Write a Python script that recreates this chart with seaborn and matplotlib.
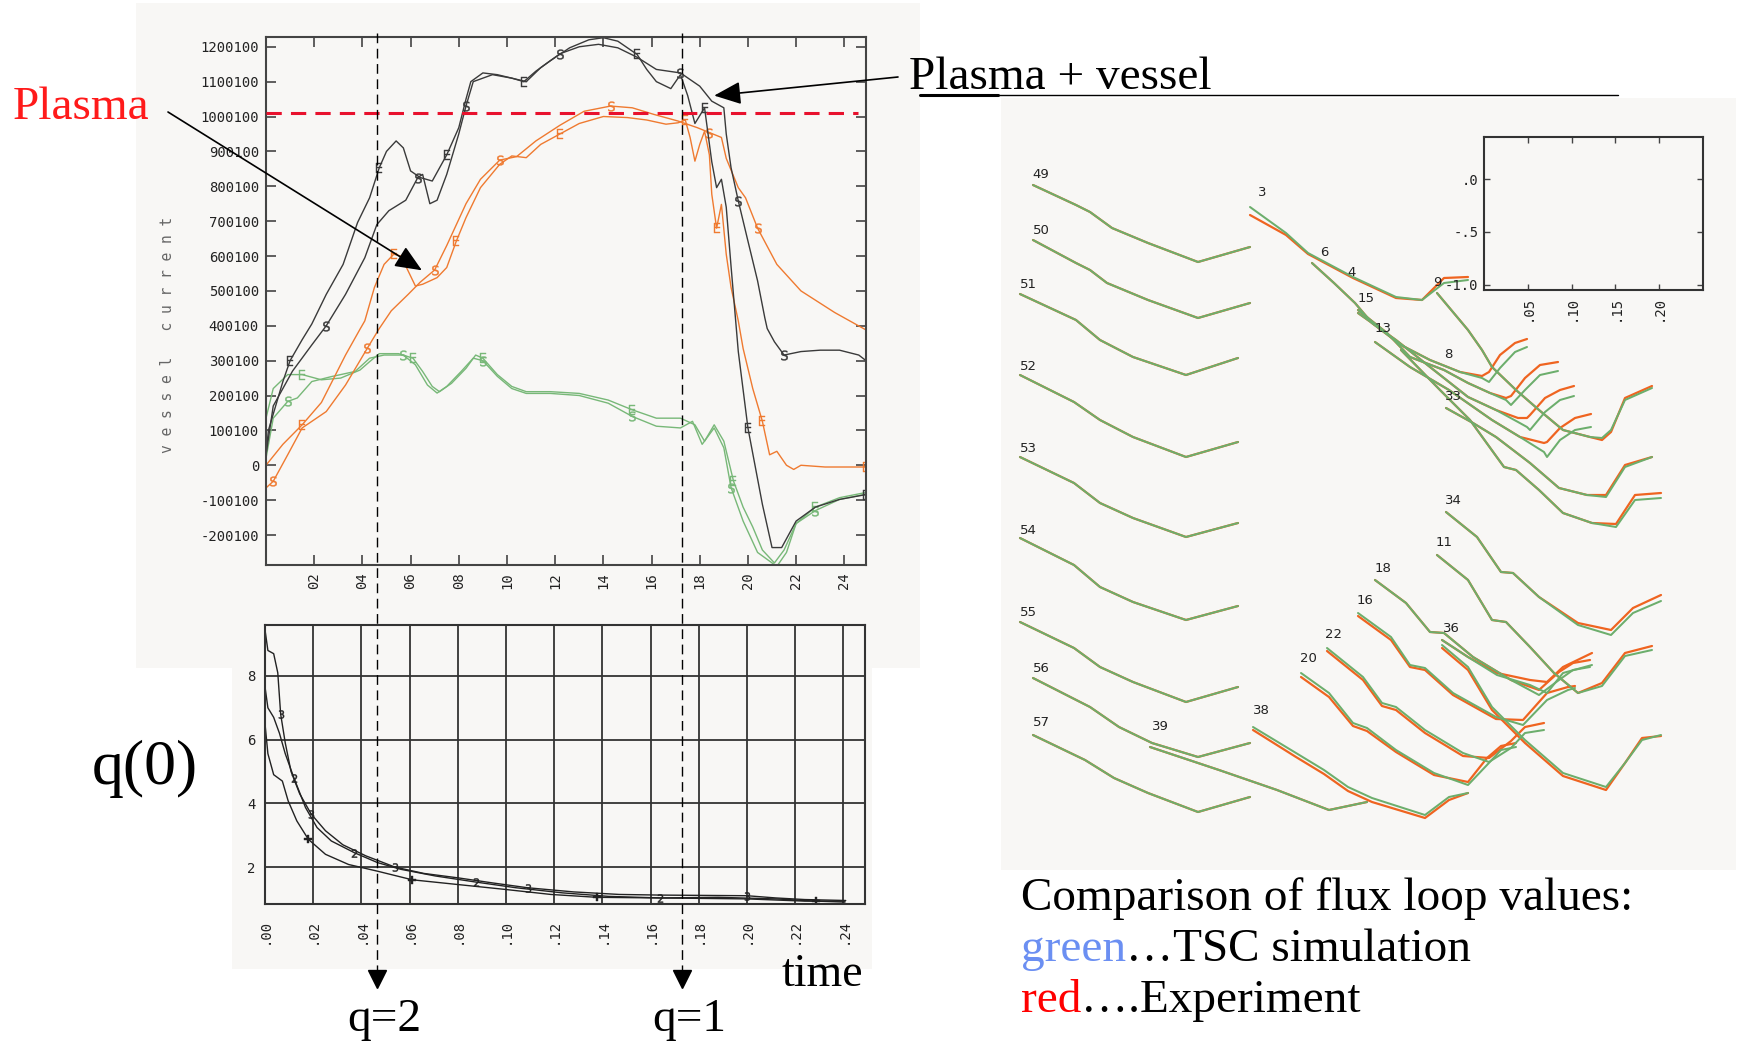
import matplotlib
matplotlib.use("Agg")
import matplotlib.pyplot as plt
from matplotlib.patches import Rectangle
from matplotlib.lines import Line2D
from matplotlib.transforms import blended_transform_factory
import seaborn as sns

sns.set_style("white")
plt.rcParams['font.family'] = ['DejaVu Sans']

W, H = 1739, 1046
PANEL = '#f8f7f5'
BLACK_C = '#3a3a3a'
ORANGE = '#ef7a30'
GREEN = '#78b878'
FLUX_RED = '#ef6420'
FLUX_GREEN = '#6cae6c'
SERIF = 'Liberation Serif'
MONO = 'DejaVu Sans Mono'

# --- vessel current traces (time in s, current in units of 100 kA) ---
t_black_exp = [0.000, 0.001, 0.007, 0.010, 0.015, 0.019, 0.025, 0.032, 0.038, 0.043, 0.047, 0.050,
               0.054, 0.057, 0.060, 0.064, 0.069, 0.075, 0.080, 0.083, 0.085, 0.090, 0.096, 0.102,
               0.107, 0.112, 0.118, 0.126, 0.134, 0.140, 0.146, 0.154, 0.158, 0.162, 0.168, 0.172,
               0.175, 0.178, 0.182, 0.185, 0.187, 0.189, 0.191, 0.193, 0.196, 0.200, 0.206, 0.210,
               0.214, 0.220, 0.228, 0.238, 0.249]
i_black_exp = [0.3, 1.0, 2.4, 3.0, 3.6, 4.05, 4.9, 5.76, 6.96, 7.67, 8.53, 9.0,
               9.3, 9.1, 8.44, 8.25, 8.15, 8.9, 9.68, 10.5, 11.0, 11.25, 11.2, 11.1,
               11.0, 11.3, 11.6, 11.97, 12.2, 12.26, 12.16, 11.78, 11.35, 11.0, 10.8, 11.2,
               10.6, 9.8, 10.25, 8.7, 7.96, 8.2, 7.4, 5.7, 3.26, 1.07, -1.12, -2.36,
               -2.36, -1.6, -1.2, -0.98, -0.84]

t_black_sim = [0.000, 0.003, 0.011, 0.019, 0.025, 0.033, 0.041, 0.046, 0.051, 0.058, 0.063, 0.065,
               0.068, 0.071, 0.075, 0.080, 0.083, 0.086, 0.094, 0.102, 0.108, 0.114, 0.122, 0.130,
               0.138, 0.146, 0.154, 0.162, 0.172, 0.180, 0.185, 0.190, 0.191, 0.193, 0.196, 0.200,
               0.204, 0.207, 0.208, 0.211, 0.215, 0.222, 0.230, 0.238, 0.246, 0.249]
i_black_sim = [0.3, 1.7, 2.7, 3.45, 4.0, 4.9, 5.95, 6.9, 7.3, 7.6, 8.25, 8.34,
               7.5, 7.6, 8.34, 9.5, 10.3, 11.0, 11.2, 11.1, 11.0, 11.4, 11.8, 12.0,
               12.07, 11.97, 11.7, 11.35, 11.25, 10.87, 10.44, 10.25, 9.5, 8.53, 7.58, 6.43,
               5.29, 4.23, 3.92, 3.54, 3.16, 3.26, 3.3, 3.3, 3.16, 3.0]

t_orange_exp = [0.000, 0.007, 0.015, 0.023, 0.033, 0.039, 0.041, 0.045, 0.049, 0.053, 0.056, 0.059,
                0.062, 0.065, 0.071, 0.075, 0.079, 0.083, 0.089, 0.097, 0.102, 0.108, 0.114, 0.122,
                0.130, 0.140, 0.150, 0.158, 0.166, 0.171, 0.174, 0.176, 0.178, 0.180, 0.182, 0.184,
                0.185, 0.187, 0.189, 0.191, 0.193, 0.196, 0.198, 0.202, 0.206, 0.209, 0.212, 0.216,
                0.219, 0.222, 0.232, 0.249]
i_orange_exp = [0.0, 0.6, 1.16, 1.8, 3.16, 3.9, 4.14, 5.1, 5.76, 6.05, 6.0, 5.57,
                5.14, 5.19, 5.38, 5.67, 6.43, 7.1, 7.96, 8.63, 8.87, 8.82, 9.2, 9.5,
                9.8, 10.0, 9.97, 9.9, 9.78, 9.82, 9.9, 9.4, 8.72, 9.2, 9.58, 8.9,
                7.77, 6.8, 7.48, 6.05, 5.1, 4.14, 3.35, 2.2, 1.26, 0.3, 0.4, 0.0,
                -0.12, 0.0, -0.05, -0.05]

t_orange_sim = [0.000, 0.003, 0.009, 0.015, 0.025, 0.033, 0.042, 0.047, 0.052, 0.059, 0.064, 0.070,
                0.075, 0.079, 0.083, 0.089, 0.097, 0.104, 0.112, 0.122, 0.132, 0.143, 0.152, 0.161,
                0.171, 0.179, 0.184, 0.189, 0.191, 0.196, 0.199, 0.204, 0.212, 0.222, 0.236, 0.249]
i_orange_sim = [-0.65, -0.46, 0.3, 1.07, 1.54, 2.3, 3.35, 3.92, 4.43, 4.9, 5.25, 5.6,
                6.3, 6.9, 7.5, 8.2, 8.75, 8.85, 9.3, 9.75, 10.15, 10.3, 10.25, 10.06,
                9.87, 9.68, 9.54, 9.4, 8.8, 7.96, 7.67, 6.8, 5.76, 5.0, 4.38, 3.88]

t_green_1 = [0.000, 0.003, 0.009, 0.015, 0.023, 0.031, 0.039, 0.043, 0.047, 0.055, 0.061, 0.065,
             0.069, 0.072, 0.077, 0.083, 0.087, 0.090, 0.096, 0.102, 0.108, 0.118, 0.130, 0.142,
             0.152, 0.162, 0.172, 0.178, 0.182, 0.186, 0.190, 0.194, 0.198, 0.202, 0.206, 0.211,
             0.215, 0.220, 0.228, 0.238, 0.249]
i_green_1 = [1.35, 2.2, 2.6, 2.6, 2.45, 2.5, 2.73, 2.97, 3.2, 3.2, 3.07, 2.69,
             2.26, 2.11, 2.35, 2.78, 3.16, 3.07, 2.6, 2.26, 2.11, 2.11, 2.06, 1.87,
             1.59, 1.35, 1.35, 1.16, 0.69, 1.16, 0.69, -0.45, -1.2, -1.77, -2.43, -2.8,
             -2.43, -1.67, -1.2, -0.93, -0.78]

t_green_2 = [0.000, 0.003, 0.009, 0.013, 0.019, 0.027, 0.037, 0.043, 0.049, 0.057, 0.062, 0.067,
             0.071, 0.075, 0.081, 0.086, 0.090, 0.096, 0.102, 0.108, 0.118, 0.130, 0.142, 0.152,
             0.162, 0.172, 0.177, 0.181, 0.186, 0.190, 0.193, 0.198, 0.204, 0.208, 0.212, 0.216,
             0.220, 0.228, 0.238, 0.249]
i_green_2 = [0.2, 1.35, 1.83, 1.93, 2.4, 2.54, 2.69, 3.07, 3.16, 3.16, 2.88, 2.3,
             2.07, 2.26, 2.69, 3.07, 3.0, 2.55, 2.2, 2.06, 2.06, 2.0, 1.78, 1.4,
             1.12, 1.07, 1.26, 0.6, 1.07, 0.5, -0.64, -1.6, -2.5, -2.7, -2.9, -2.5,
             -1.67, -1.3, -0.98, -0.83]

plasma_limit = 10.1
q2_time, q1_time = 0.0461, 0.1726
plasma_tip = (0.0647, 5.59)
vessel_tip = (0.186, 10.6)

top_xticks = [0.02, 0.04, 0.06, 0.08, 0.10, 0.12, 0.14, 0.16, 0.18, 0.20, 0.22, 0.24]
top_xlabels = ['02', '04', '06', '08', '10', '12', '14', '16', '18', '20', '22', '24']
top_yticks = [-2, -1, 0, 1, 2, 3, 4, 5, 6, 7, 8, 9, 10, 11, 12]
top_ylabels = ['-200100', '-100100', '0', '100100', '200100', '300100', '400100', '500100',
               '600100', '700100', '800100', '900100', '1000100', '1100100', '1200100']

# --- q(0) traces ---
t_q3 = [0.0000, 0.0012, 0.0036, 0.0053, 0.0065, 0.0084, 0.0108, 0.0144, 0.0192, 0.0251, 0.0323, 0.0419,
        0.0539, 0.0659, 0.0802, 0.0946, 0.109, 0.128, 0.147, 0.164, 0.200, 0.212, 0.224, 0.241]
q_3 = [9.45, 8.8, 8.7, 8.1, 6.8, 5.9, 5.0, 4.3, 3.66, 3.14, 2.7, 2.35,
       2.0, 1.8, 1.66, 1.5, 1.35, 1.22, 1.14, 1.12, 1.1, 1.03, 0.98, 0.95]
t_q2 = [0.0000, 0.0012, 0.0036, 0.0060, 0.0084, 0.0120, 0.0168, 0.0216, 0.0275, 0.0371, 0.0467,
        0.0563, 0.0707, 0.0874, 0.1042, 0.1234, 0.1425, 0.1641, 0.2000, 0.2240, 0.2407]
q_2 = [7.66, 7.0, 6.7, 6.2, 5.56, 4.8, 3.87, 3.24, 2.82, 2.45, 2.14,
       1.93, 1.72, 1.53, 1.35, 1.19, 1.08, 1.03, 1.0, 0.93, 0.93]
t_q1 = [0.0000, 0.0012, 0.0036, 0.0072, 0.0096, 0.0132, 0.0180, 0.0251, 0.0347, 0.0467,
        0.0611, 0.0802, 0.0994, 0.1186, 0.1377, 0.1641, 0.1880, 0.2120, 0.2287, 0.2407]
q_1 = [6.5, 5.56, 4.9, 4.7, 4.08, 3.45, 2.87, 2.4, 2.08, 1.87,
       1.6, 1.45, 1.3, 1.14, 1.05, 1.03, 1.05, 1.0, 0.93, 0.9]

q_xticks = [0.00, 0.02, 0.04, 0.06, 0.08, 0.10, 0.12, 0.14, 0.16, 0.18, 0.20, 0.22, 0.24]
q_xlabels = ['.00', '.02', '.04', '.06', '.08', '.10', '.12', '.14', '.16', '.18', '.20', '.22', '.24']
q_yticks = [2, 4, 6, 8]

# --- flux loop overlay (panel coordinates) ---
l49_x = [1033, 1076, 1090, 1112, 1148, 1198, 1250]
l49_g = [185, 205, 212, 228, 243, 262, 247]
l50_x = [1033, 1076, 1090, 1107, 1148, 1198, 1250]
l50_g = [240, 263, 270, 283, 300, 318, 303]
l51_x = [1020, 1076, 1100, 1133, 1186, 1238]
l51_g = [294, 320, 340, 357, 375, 358]
l52_x = [1020, 1074, 1100, 1133, 1186, 1238]
l52_g = [375, 402, 420, 437, 457, 442]
l53_x = [1020, 1074, 1100, 1133, 1186, 1238]
l53_g = [457, 483, 503, 518, 537, 523]
l54_x = [1020, 1074, 1100, 1133, 1186, 1238]
l54_g = [538, 565, 587, 602, 620, 606]
l55_x = [1020, 1074, 1100, 1133, 1186, 1238]
l55_g = [622, 648, 667, 682, 702, 687]
l56_x = [1033, 1090, 1119, 1152, 1198, 1250]
l56_g = [678, 707, 727, 743, 757, 743]
l57_x = [1033, 1085, 1114, 1148, 1198, 1250]
l57_g = [735, 760, 778, 793, 812, 797]
l39_x = [1150, 1219, 1277, 1329, 1367]
l39_g = [747, 770, 790, 810, 802]
l38_x = [1253, 1296, 1324, 1348, 1372, 1425, 1449, 1468]
l38_g = [727, 753, 770, 787, 798, 815, 797, 793]
l38_r = [730, 757, 774, 791, 802, 818, 800, 793]
l20_x = [1301, 1329, 1353, 1367, 1396, 1434, 1468, 1487, 1501, 1516]
l20_g = [673, 693, 723, 728, 750, 773, 785, 765, 750, 747]
l20_r = [677, 697, 726, 731, 752, 775, 782, 758, 746, 743]
l22_x = [1327, 1363, 1382, 1396, 1425, 1463, 1489, 1511, 1525, 1544]
l22_g = [648, 677, 703, 707, 730, 753, 762, 748, 733, 730]
l22_r = [651, 680, 706, 710, 733, 756, 758, 741, 727, 723]
l16_x = [1358, 1391, 1410, 1425, 1453, 1496, 1523, 1547, 1568, 1575]
l16_g = [613, 637, 665, 668, 693, 717, 725, 700, 690, 688]
l16_r = [616, 640, 667, 670, 695, 719, 720, 693, 687, 686]
l18_x = [1375, 1406, 1430, 1444, 1473, 1511, 1539, 1559, 1573, 1590]
l18_g = [580, 603, 632, 633, 657, 680, 695, 680, 670, 667]
l18_r = [580, 603, 632, 633, 657, 680, 690, 672, 663, 660]
l11_x = [1437, 1468, 1492, 1506, 1530, 1554, 1578, 1602, 1625, 1652]
l11_g = [555, 580, 620, 622, 647, 673, 693, 686, 656, 650]
l11_r = [555, 580, 620, 622, 647, 673, 693, 683, 653, 646]
l34_x = [1446, 1477, 1501, 1513, 1539, 1578, 1611, 1633, 1661]
l34_g = [512, 537, 572, 573, 597, 625, 635, 613, 601]
l34_r = [512, 537, 572, 573, 597, 623, 630, 608, 595]
l36a_x = [1442, 1468, 1497, 1530, 1547, 1563, 1592]
l36a_g = [640, 657, 675, 685, 693, 673, 665]
l36a_r = [640, 657, 673, 680, 682, 667, 653]
l36b_x = [1442, 1468, 1492, 1525, 1563, 1606, 1625, 1642, 1661]
l36b_g = [645, 667, 707, 740, 773, 787, 763, 740, 735]
l36b_r = [648, 670, 710, 743, 776, 790, 763, 738, 736]
l3_x = [1250, 1286, 1308, 1353, 1396, 1422, 1444, 1468]
l3_g = [207, 233, 253, 277, 297, 300, 283, 280]
l3_r = [215, 235, 254, 278, 298, 300, 278, 277]
l9_x = [1437, 1468, 1482, 1492, 1516, 1539, 1563, 1590, 1602, 1611, 1625, 1652]
l9_g = [293, 330, 350, 367, 390, 410, 430, 437, 438, 430, 400, 388]
l9_r = [293, 330, 350, 367, 390, 410, 430, 437, 440, 432, 398, 386]
l6_x = [1312, 1334, 1355, 1372, 1401, 1430, 1460, 1482, 1489, 1500, 1515, 1527]
l6_g = [263, 283, 303, 323, 345, 360, 372, 378, 382, 368, 352, 347]
l6_r = [263, 283, 303, 323, 345, 360, 372, 376, 372, 355, 343, 339]
l15_x = [1358, 1387, 1410, 1444, 1468, 1490, 1506, 1511, 1525, 1540, 1558]
l15_g = [310, 333, 357, 370, 383, 393, 400, 405, 390, 375, 371]
l15_r = [310, 333, 357, 370, 383, 393, 398, 396, 378, 365, 362]
l13_x = [1358, 1396, 1430, 1468, 1496, 1518, 1527, 1530, 1545, 1560, 1574]
l13_g = [313, 340, 367, 397, 410, 422, 427, 430, 412, 400, 396]
l13_r = [313, 340, 367, 397, 410, 418, 418, 415, 398, 390, 386]
l8_x = [1375, 1410, 1449, 1492, 1520, 1544, 1547, 1560, 1575, 1591]
l8_g = [342, 367, 390, 420, 437, 452, 457, 440, 430, 427]
l8_r = [342, 367, 390, 420, 437, 443, 442, 428, 418, 414]
l33_x = [1446, 1473, 1496, 1530, 1559, 1587, 1606, 1625, 1652]
l33_g = [408, 423, 437, 463, 488, 495, 497, 467, 457]
l33_r = [408, 423, 437, 463, 488, 495, 495, 465, 457]
l4_x = [1401, 1440, 1470, 1504, 1516, 1539, 1563, 1592, 1616, 1635, 1661]
l4_g = [350, 390, 420, 467, 470, 490, 513, 523, 527, 500, 498]
l4_r = [350, 390, 420, 467, 470, 490, 513, 523, 524, 495, 493]

flux_labels = ['49', '50', '51', '52', '53', '54', '55', '56', '57', '39', '38', '20', '22',
               '16', '18', '11', '34', '36', '3', '6', '4', '15', '13', '9', '8', '33']
flux_label_x = [1041, 1041, 1028, 1028, 1028, 1028, 1028, 1041, 1041, 1160, 1261, 1308, 1334,
                1365, 1383, 1444, 1453, 1451, 1262, 1324, 1352, 1366, 1383, 1437, 1448, 1453]
flux_label_y = [175, 230, 285, 367, 448, 531, 613, 668, 723, 727, 710, 658, 635,
                600, 568, 543, 501, 628, 192, 252, 273, 299, 329, 282, 354, 396]

inset_xticks = [0.05, 0.10, 0.15, 0.20]
inset_xlabels = ['.05', '.10', '.15', '.20']
inset_yticks = [0.0, -0.5, -1.0]
inset_ylabels = ['.0', '-.5', '-1.0']


def fx(px):
    return px / W


def fy(py):
    return 1 - py / H


def box(l, t, r, b):
    return [fx(l), fy(b), fx(r) - fx(l), fy(t) - fy(b)]


fig = plt.figure(figsize=(W / 100, H / 100), dpi=100)
fig.patch.set_facecolor('white')

# light grey backgrounds of the pasted plots
for l, t, r, b in [(136, 3, 920, 668), (232, 667, 872, 969), (1001, 98, 1736, 870)]:
    fig.add_artist(Rectangle((fx(l), fy(b)), fx(r) - fx(l), fy(t) - fy(b),
                             transform=fig.transFigure, facecolor=PANEL,
                             edgecolor='none', zorder=-10))

# --- vessel current plot ---
ax = fig.add_axes(box(266, 37, 866, 565))
ax.set_facecolor(PANEL)
line_kw = dict(estimator=None, sort=False, lw=1.0, ms=7, mew=0.3)
E_MARK, S_MARK = r'$\mathrm{E}$', r'$\mathrm{S}$'
sns.lineplot(x=t_green_1, y=i_green_1, ax=ax, color=GREEN, marker=E_MARK, markevery=(3, 7),
             mec=GREEN, mfc=GREEN, **line_kw)
sns.lineplot(x=t_green_2, y=i_green_2, ax=ax, color=GREEN, marker=S_MARK, markevery=(2, 7),
             mec=GREEN, mfc=GREEN, **line_kw)
sns.lineplot(x=t_orange_exp, y=i_orange_exp, ax=ax, color=ORANGE, marker=E_MARK, markevery=(2, 7),
             mec=ORANGE, mfc=ORANGE, **line_kw)
sns.lineplot(x=t_orange_sim, y=i_orange_sim, ax=ax, color=ORANGE, marker=S_MARK, markevery=(1, 5),
             mec=ORANGE, mfc=ORANGE, **line_kw)
sns.lineplot(x=t_black_exp, y=i_black_exp, ax=ax, color=BLACK_C, marker=E_MARK, markevery=(3, 7),
             mec=BLACK_C, mfc=BLACK_C, **line_kw)
sns.lineplot(x=t_black_sim, y=i_black_sim, ax=ax, color=BLACK_C, marker=S_MARK, markevery=(4, 6),
             mec=BLACK_C, mfc=BLACK_C, **line_kw)
ax.hlines(plasma_limit, 0, 0.2455, colors='#e8112d', linestyles=(0, (5, 3)), lw=2.2, zorder=5)

ax.set_xlim(0, 0.249)
ax.set_ylim(-2.86, 12.28)
ax.set_xticks(top_xticks)
ax.set_xticklabels(top_xlabels, rotation=90, fontfamily=MONO, fontsize=10, color='#222')
ax.set_yticks(top_yticks)
ax.set_yticklabels(top_ylabels, fontfamily=MONO, fontsize=10, color='#222')
ax.tick_params(direction='in', length=7, width=1.2, color='#444', bottom=True, left=True,
               top=True, right=True, pad=5)
for s in ax.spines.values():
    s.set_color('#444')
    s.set_linewidth(1.5)

fig.text(fx(167), fy(335), 'v e s s e l   c u r r e n t', rotation=90, ha='center', va='center',
         family=MONO, fontsize=10.5, color='#666')

# --- q(0) plot ---
axq = fig.add_axes(box(265, 625, 865, 904))
axq.set_facecolor(PANEL)
q_kw = dict(estimator=None, sort=False, color='#222', lw=1.0, ms=6, mew=0.3, mec='#222', mfc='#222')
sns.lineplot(x=t_q3, y=q_3, ax=axq, marker='$3$', markevery=(4, 4), **q_kw)
sns.lineplot(x=t_q2, y=q_2, ax=axq, marker='$2$', markevery=(5, 4), **q_kw)
sns.lineplot(x=t_q1, y=q_1, ax=axq, marker='$+$', markevery=(6, 4), **q_kw)
axq.set_xlim(0, 0.249)
axq.set_ylim(0.84, 9.6)
axq.set_xticks(q_xticks)
axq.set_xticklabels(q_xlabels, rotation=90, fontfamily=MONO, fontsize=10, color='#222')
axq.set_yticks(q_yticks)
axq.set_yticklabels([str(v) for v in q_yticks], fontfamily=MONO, fontsize=10, color='#222')
axq.tick_params(length=0, bottom=True, left=True)
axq.tick_params(axis='x', pad=11)
axq.tick_params(axis='y', pad=7)
axq.grid(True, color='#333', lw=1.3)
for s in axq.spines.values():
    s.set_color('#333')
    s.set_linewidth(1.5)

# --- flux loop overlay ---
axr = fig.add_axes(box(1001, 98, 1736, 870))
axr.set_xlim(1001, 1736)
axr.set_ylim(870, 98)
axr.axis('off')
loops = [(l49_x, l49_g, l49_g), (l50_x, l50_g, l50_g), (l51_x, l51_g, l51_g),
         (l52_x, l52_g, l52_g), (l53_x, l53_g, l53_g), (l54_x, l54_g, l54_g),
         (l55_x, l55_g, l55_g), (l56_x, l56_g, l56_g), (l57_x, l57_g, l57_g),
         (l39_x, l39_g, l39_g), (l38_x, l38_g, l38_r), (l20_x, l20_g, l20_r),
         (l22_x, l22_g, l22_r), (l16_x, l16_g, l16_r), (l18_x, l18_g, l18_r),
         (l11_x, l11_g, l11_r), (l34_x, l34_g, l34_r), (l36a_x, l36a_g, l36a_r),
         (l36b_x, l36b_g, l36b_r), (l3_x, l3_g, l3_r), (l9_x, l9_g, l9_r),
         (l6_x, l6_g, l6_r), (l15_x, l15_g, l15_r), (l13_x, l13_g, l13_r),
         (l8_x, l8_g, l8_r), (l33_x, l33_g, l33_r), (l4_x, l4_g, l4_r)]
for lx, lg, lr in loops:
    sns.lineplot(x=lx, y=lr, ax=axr, color=FLUX_RED, lw=1.6, estimator=None, sort=False)
for lx, lg, lr in loops:
    sns.lineplot(x=lx, y=lg, ax=axr, color=FLUX_GREEN, lw=1.45, estimator=None, sort=False)
for lab, lx, ly in zip(flux_labels, flux_label_x, flux_label_y):
    axr.text(lx, ly, lab, ha='center', va='center', fontsize=9.5, color='#222')

# empty inset frame
axi = fig.add_axes(box(1484, 137, 1703, 290))
axi.set_facecolor(PANEL)
axi.set_xlim(0, 0.25)
axi.set_ylim(-1.05, 0.4)
axi.set_xticks(inset_xticks)
axi.set_xticklabels(inset_xlabels, rotation=90, fontfamily=MONO, fontsize=10, color='#222')
axi.set_yticks(inset_yticks)
axi.set_yticklabels(inset_ylabels, fontfamily=MONO, fontsize=10, color='#222')
axi.tick_params(direction='in', length=4, width=1, color='#444', bottom=True, left=True,
                top=True, right=True, pad=4)
for s in axi.spines.values():
    s.set_color('#333')
    s.set_linewidth(1.5)

# --- dashed q=2 / q=1 markers crossing both plots ---
trans = blended_transform_factory(ax.transData, fig.transFigure)
for tq in (q2_time, q1_time):
    fig.add_artist(Line2D([tq, tq], [fy(33), fy(972)], transform=trans, color='black',
                          lw=1.0, ls=(0, (7, 4)), zorder=6))
    fig.add_artist(Line2D([tq], [fy(979)], transform=trans, color='black', marker='v',
                          ms=13, ls='none', zorder=6))

# --- arrows ---
arrow_kw = dict(arrowstyle='-|>,head_length=0.75,head_width=0.32', color='black', lw=1.2,
                shrinkA=0, shrinkB=0, mutation_scale=22)
ax.annotate('', xy=plasma_tip, xycoords='data', xytext=(fx(168), fy(112)),
            textcoords='figure fraction', arrowprops=arrow_kw, annotation_clip=False)
ax.annotate('', xy=vessel_tip, xycoords='data', xytext=(fx(898), fy(77)),
            textcoords='figure fraction', arrowprops=arrow_kw, annotation_clip=False)

fig.add_artist(Line2D([fx(920), fx(1618)], [fy(95), fy(95)], transform=fig.transFigure,
                      color='black', lw=1.0))
fig.add_artist(Line2D([fx(920), fx(998)], [fy(95), fy(95)], transform=fig.transFigure,
                      color='black', lw=2.2))

# --- annotation text ---
fig.text(fx(13), fy(119), 'Plasma', color='#ff1a1a', family=SERIF, fontsize=34, va='baseline')
fig.text(fx(909), fy(89), 'Plasma + vessel', color='black', family=SERIF, fontsize=34,
         va='baseline')
fig.text(fx(92), fy(784), 'q(0)', color='black', family=SERIF, fontsize=46, va='baseline')
fig.text(fx(781), fy(986), 'time', color='black', family=SERIF, fontsize=33, va='baseline')
fig.text(fx(347), fy(1031), 'q=2', color='black', family=SERIF, fontsize=34, va='baseline')
fig.text(fx(652), fy(1031), 'q=1', color='black', family=SERIF, fontsize=34, va='baseline')

renderer = fig.canvas.get_renderer()
fig.text(fx(1021), fy(910), 'Comparison of flux loop values:', color='black', family=SERIF,
         fontsize=34, va='baseline')
for y0, key, key_color, rest in [(961, 'green', '#6b8ff2', '\u2026TSC simulation'),
                                 (1012, 'red', '#ff0000', '\u2026.Experiment')]:
    t0 = fig.text(fx(1021), fy(y0), key, color=key_color, family=SERIF, fontsize=34,
                  va='baseline')
    w0 = t0.get_window_extent(renderer).width / W
    fig.text(fx(1021) + w0, fy(y0), rest, color='black', family=SERIF, fontsize=34,
             va='baseline')

fig.savefig('out.png', dpi=100)
